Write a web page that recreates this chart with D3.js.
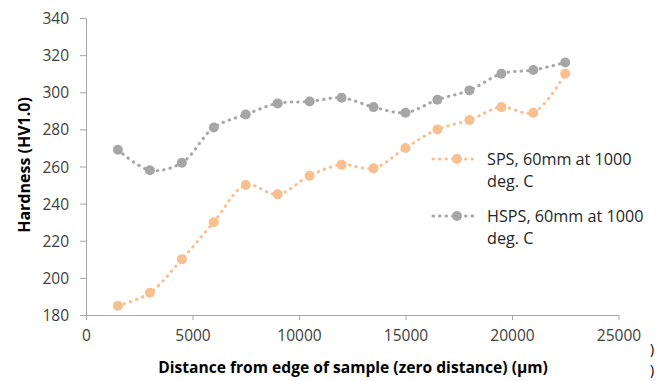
<!DOCTYPE html>
<html>
<head>
<meta charset="utf-8">
<script src="https://cdn.jsdelivr.net/npm/d3@7"></script>
<style>
  body { margin: 0; background: #fff; }
  svg { display: block; font-family: "Open Sans", sans-serif; }
</style>
</head>
<body>
<div id="chart"></div>
<script>
const width = 656
const height = 381
const margin = { top: 18, right: 37, bottom: 66, left: 86 }

const distances = [1500, 3000, 4500, 6000, 7500, 9000, 10500, 12000, 13500, 15000, 16500, 18000, 19500, 21000, 22500]
const sps = [185, 192, 210, 230, 250, 245, 255, 261, 259, 270, 280, 285, 292, 289, 310]
const hsps = [269, 258, 262, 281, 288, 294, 295, 297, 292, 289, 296, 301, 310, 312, 316]
const xTicks = [0, 5000, 10000, 15000, 20000, 25000]
const yTicks = [180, 200, 220, 240, 260, 280, 300, 320, 340]
const seriesNames = ['SPS, 60mm at 1000|deg. C', 'HSPS, 60mm at 1000|deg. C']
const colors = ['#f9bf8f', '#a6a6a6']
const axisColor = '#a6a6a6'

const svg = d3.select('#chart')
  .append('svg')
  .attr('width', width)
  .attr('height', height)

const x = d3.scaleLinear()
  .domain([0, 25000])
  .range([margin.left, width - margin.right - 0.5])

const y = d3.scaleLinear()
  .domain([180, 340])
  .range([height - margin.bottom, margin.top])

// axes
const xAxis = svg.append('g')
  .attr('transform', `translate(0, ${y(180)})`)
  .call(d3.axisBottom(x).tickValues(xTicks).tickFormat(d3.format('d')).tickSize(5).tickPadding(12).tickSizeOuter(0))
const yAxis = svg.append('g')
  .attr('transform', `translate(${x(0)}, 0)`)
  .call(d3.axisLeft(y).tickValues(yTicks).tickFormat(d3.format('d')).tickSize(6).tickPadding(11).tickSizeOuter(0))

;[xAxis, yAxis].forEach(g => {
  g.select('.domain').attr('stroke', axisColor).attr('stroke-width', 1)
  g.selectAll('.tick line').attr('stroke', axisColor)
  g.selectAll('.tick text')
    .attr('fill', '#404040')
    .style('font-size', '15.5px')
    .style('font-family', '"Open Sans", sans-serif')
})
xAxis.selectAll('.tick text').attr('dy', '0.6em')
yAxis.selectAll('.tick text').attr('dy', '0.36em')

// axis titles
svg.append('text')
  .attr('x', 353)
  .attr('y', 373)
  .attr('text-anchor', 'middle')
  .attr('font-weight', 'bold')
  .attr('font-size', 15.6)
  .attr('fill', '#000')
  .text('Distance from edge of sample (zero distance) (μm)')

svg.append('text')
  .attr('transform', 'translate(30, 165) rotate(-90)')
  .attr('text-anchor', 'middle')
  .attr('font-weight', 'bold')
  .attr('font-size', 16)
  .attr('fill', '#000')
  .text('Hardness (HV1.0)')

// cut-off glyphs at right edge
svg.append('text').attr('x', 650).attr('y', 354).attr('font-size', 14).attr('fill', '#000').text(')')
svg.append('text').attr('x', 650).attr('y', 375).attr('font-size', 14).attr('fill', '#000').text(')')

// series
const line = d3.line()
  .x((d) => x(d[0]))
  .y((d) => y(d[1]))
  .curve(d3.curveCatmullRom.alpha(0.5))

const allSeries = [sps, hsps]

allSeries.forEach((vals, i) => {
  const pts = distances.map((dist, j) => [dist, vals[j]])
  const g = svg.append('g')
  g.append('path')
    .datum(pts)
    .attr('d', line)
    .attr('fill', 'none')
    .attr('stroke', colors[i])
    .attr('stroke-width', 3)
    .attr('stroke-linecap', 'round')
    .attr('stroke-dasharray', '0.5,6')
  g.selectAll('circle')
    .data(pts)
    .enter()
    .append('circle')
    .attr('cx', (d) => x(d[0]))
    .attr('cy', (d) => y(d[1]))
    .attr('r', 5)
    .attr('fill', colors[i])
})

// legend
const legend = svg.append('g')
seriesNames.forEach((name, i) => {
  const ly = 159 + i * 57
  legend.append('line')
    .attr('x1', 433).attr('x2', 478)
    .attr('y1', ly).attr('y2', ly)
    .attr('stroke', colors[i])
    .attr('stroke-width', 3)
    .attr('stroke-linecap', 'round')
    .attr('stroke-dasharray', '0.5,6')
  legend.append('circle')
    .attr('cx', 457).attr('cy', ly)
    .attr('r', 5)
    .attr('fill', colors[i])
  const t = legend.append('text')
    .attr('x', 487)
    .attr('y', ly + 6)
    .attr('font-size', 16.2)
    .attr('fill', '#262626')
  name.split('|').forEach((part, k) => {
    t.append('tspan')
      .attr('x', 487)
      .attr('dy', k === 0 ? 0 : 22)
      .text(part)
  })
})
</script>
</body>
</html>
